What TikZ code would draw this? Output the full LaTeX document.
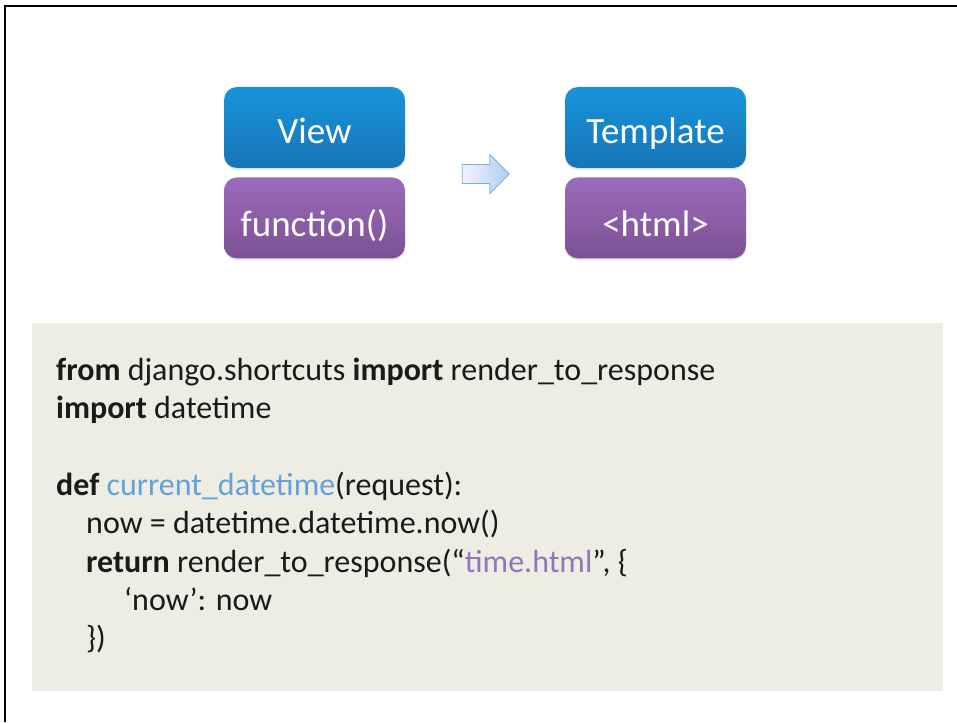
\documentclass[tikz,border=0pt]{standalone}
\usepackage{fontspec}
\setmainfont{Carlito}
\usetikzlibrary{positioning,shapes.arrows,shadows}
\definecolor{viewtop}{HTML}{1893DB}
\definecolor{viewbot}{HTML}{1776B6}
\definecolor{functop}{HTML}{9B6BBC}
\definecolor{funcbot}{HTML}{7C5193}
\definecolor{codebg}{HTML}{EEEDE3}
\definecolor{codetxt}{HTML}{1A1A1A}
\definecolor{fnblue}{HTML}{65A0DC}
\definecolor{strpurple}{HTML}{9176B8}
\definecolor{arrowline}{HTML}{7BAEDF}

\begin{document}
\begin{tikzpicture}[
      x=1pt, y=-1pt,
      node distance=9pt,
      block/.style={rectangle, rounded corners=13pt, minimum width=181pt, minimum height=81pt, text=white, font=\fontsize{37}{40}\selectfont, inner sep=0pt, drop shadow={opacity=0.2, shadow xshift=0pt, shadow yshift=-2pt}},
      blueblock/.style={block, top color=viewtop, bottom color=viewbot, text height=36pt, text depth=4.5pt},
      purpleblock/.style={block, top color=functop, bottom color=funcbot, text height=40pt, text depth=2pt},
      codeline/.style={anchor=base west, inner sep=0pt, text=codetxt, font=\fontsize{32}{38}\selectfont}
  ]
      \useasboundingbox (0,0) rectangle (957,722);
      % Frame of the slide
      \draw[line width=2pt] (5,722) -- (5,6) -- (957,6);

      % View and template blocks
      \node (view) [blueblock] at (314.5,127.5) {View};
      \node (func) [purpleblock, below=of view] {function()};
      \node (template) [blueblock] at (655.5,127.5) {Template};
      \node (html) [purpleblock, below=of template] {<html>};

      % Arrow between the two stacks
      \node (arrow) [single arrow, draw=arrowline, line width=0.8pt, left color=blue!5, right color=arrowline!60, minimum height=47pt, inner sep=9pt, single arrow head extend=10pt] at (481,174) {};

      % Code listing
      \node (code) [rectangle, fill=codebg, minimum width=911pt, minimum height=368pt] at (487.5,507) {};
      \node (l1) [codeline] at (56,380) {\textbf{from} django.shortcuts \textbf{import} render\_to\_response};
      \node (l2) [codeline] at (56,418) {\textbf{import} datetime};
      \node (l3) [codeline] at (56,495) {\textbf{def} \textcolor{fnblue}{current\_datetime}(request):};
      \node (l4) [codeline] at (86,533) {now = datetime.datetime.now()};
      \node (l5) [codeline] at (86,572) {\textbf{return} render\_to\_response(“\textcolor{strpurple}{time.html}”, \{};
      \node (l6) [codeline] at (124,610) {‘now’: now};
      \node (l7) [codeline] at (86,648) {\})};
  \end{tikzpicture}
\end{document}
